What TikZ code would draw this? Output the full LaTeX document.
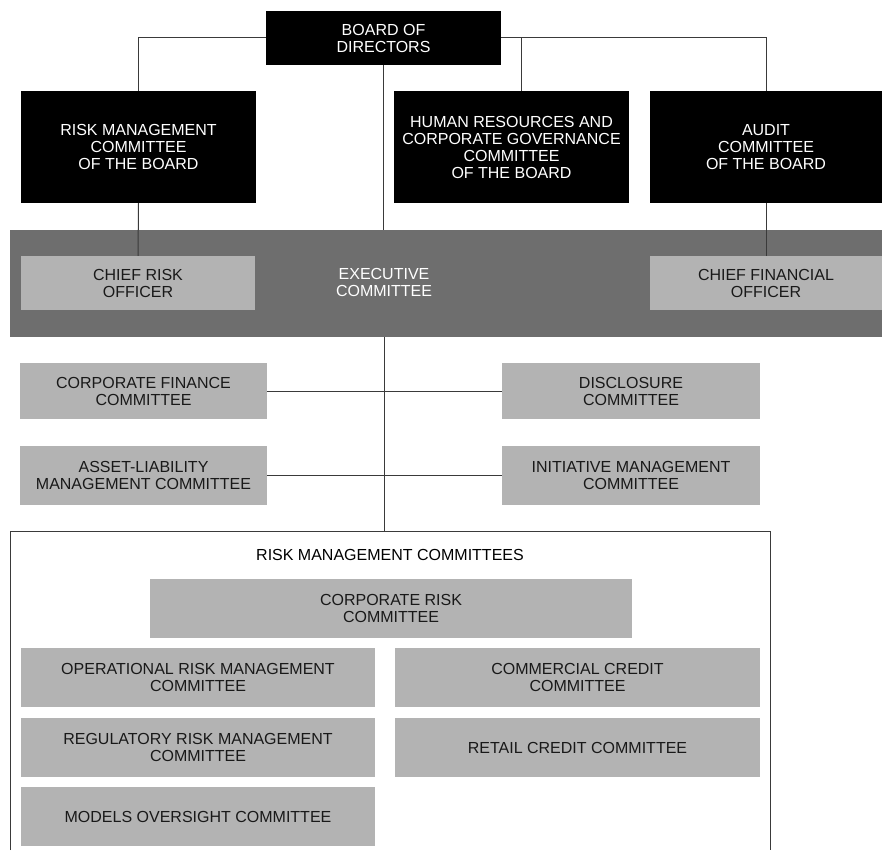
\documentclass[tikz,border=0pt]{standalone}
\usepackage{fontspec}
\setmainfont{Liberation Sans}
\definecolor{bandgray}{HTML}{6E6E6E}
\definecolor{boxgray}{HTML}{B3B3B3}
\definecolor{linegray}{HTML}{3A3A3A}
\begin{document}
\begin{tikzpicture}[
    x=1pt, y=-1pt,
    every node/.style={font=\fontsize{16}{17}\selectfont, align=center, inner sep=0pt},
    board/.style={fill=black, text=white, minimum width=235pt},
    staff/.style={fill=boxgray, text=black!90},
    link/.style={draw=linegray, line width=1pt},
]
    \useasboundingbox (0,0) rectangle (882,850);

    % board level
    \node[board, minimum height=54pt] (bod) at (383.5, 38) {BOARD OF\\DIRECTORS};
    \node[board, minimum height=112pt] (rmcb) at (138.5, 147) {RISK MANAGEMENT\\COMMITTEE\\OF THE BOARD};
    \node[board, minimum height=112pt] (hrcg) at (511.5, 147) {HUMAN RESOURCES AND\\CORPORATE GOVERNANCE\\COMMITTEE\\OF THE BOARD};
    \node[board, minimum height=112pt, minimum width=232pt] (audit) at (766, 147) {AUDIT\\COMMITTEE\\OF THE BOARD};

    % executive band
    \node[fill=bandgray, minimum width=872pt, minimum height=107pt] (exec) at (446, 283.5) {};
    \node[text=white] (execlbl) at (384, 282) {EXECUTIVE\\COMMITTEE};
    \node[staff, minimum width=234pt, minimum height=54pt] (cro) at (138, 283) {CHIEF RISK\\OFFICER};
    \node[staff, minimum width=232pt, minimum height=54pt] (cfo) at (766, 283) {CHIEF FINANCIAL\\OFFICER};

    % management committees
    \node[staff, minimum width=247pt, minimum height=56pt] (corpfin) at (143.5, 391) {CORPORATE FINANCE\\COMMITTEE};
    \node[staff, minimum width=258pt, minimum height=56pt] (discl) at (631, 391) {DISCLOSURE\\COMMITTEE};
    \node[staff, minimum width=247pt, minimum height=59pt] (alco) at (143.5, 475.5) {ASSET-LIABILITY\\MANAGEMENT COMMITTEE};
    \node[staff, minimum width=258pt, minimum height=59pt] (initm) at (631, 475.5) {INITIATIVE MANAGEMENT\\COMMITTEE};

    % risk management committees
    \coordinate (frametop) at (384, 531);
    \draw[link] (10, 850) -- (10, 531) -- (770, 531) -- (770, 850);
    \node (rmclbl) at (390, 555) {RISK MANAGEMENT COMMITTEES};
    \node[staff, minimum width=482pt, minimum height=59pt] (corprisk) at (391, 608.5) {CORPORATE RISK\\COMMITTEE};
    \node[staff, minimum width=354pt, minimum height=59pt] (oprisk) at (198, 677.5) {OPERATIONAL RISK MANAGEMENT\\COMMITTEE};
    \node[staff, minimum width=365pt, minimum height=59pt] (commcred) at (577.5, 677.5) {COMMERCIAL CREDIT\\COMMITTEE};
    \node[staff, minimum width=354pt, minimum height=59pt] (regrisk) at (198, 747.5) {REGULATORY RISK MANAGEMENT\\COMMITTEE};
    \node[staff, minimum width=365pt, minimum height=59pt] (retail) at (577.5, 747.5) {RETAIL CREDIT COMMITTEE};
    \node[staff, minimum width=354pt, minimum height=59pt] (models) at (198, 816.5) {MODELS OVERSIGHT COMMITTEE};

    % connectors
    \draw[link] (rmcb.north) |- (bod.west);
    \draw[link] (bod.east) -| (audit.north);
    \draw[link] ([xshift=10pt]hrcg.north) -- ([xshift=10pt]hrcg.north |- bod.east);
    \draw[link] (bod.south) -- (bod.south |- exec.north);
    \draw[link] (rmcb.south) -- (cro.north);
    \draw[link] (audit.south) -- (cfo.north);
    \draw[link] (exec.south -| frametop) -- (frametop);
    \draw[link] (corpfin) -- (discl);
    \draw[link] (alco) -- (initm);
\end{tikzpicture}
\end{document}
